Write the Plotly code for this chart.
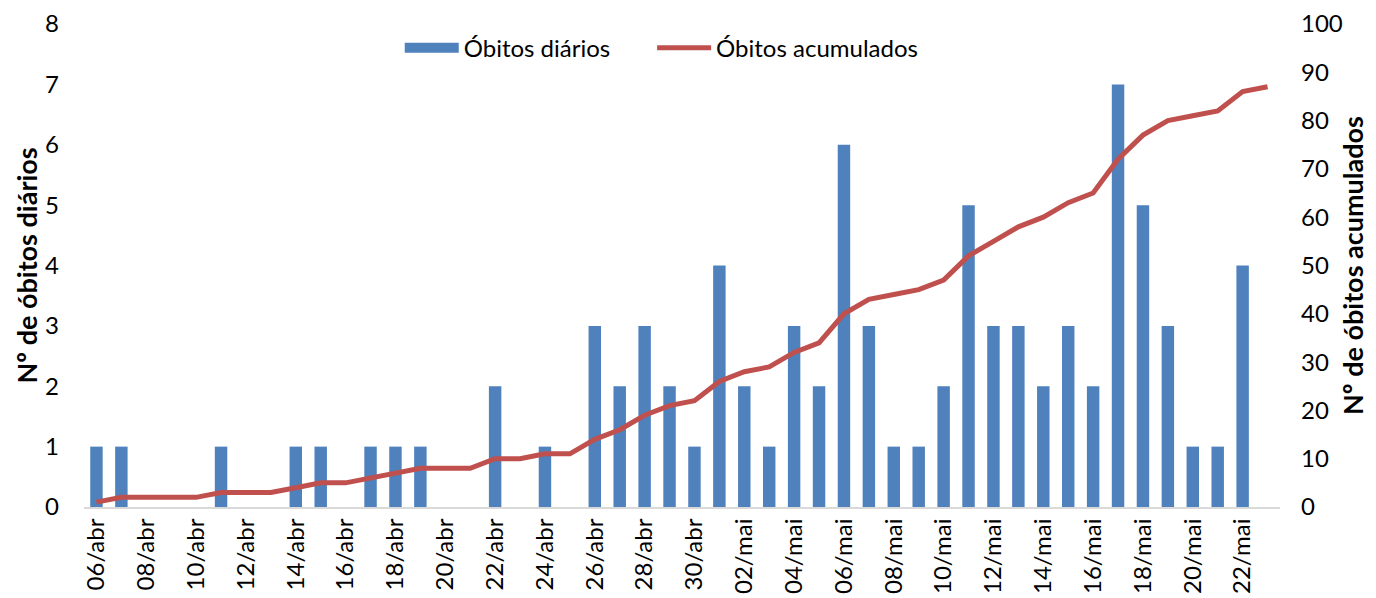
import plotly.graph_objects as go

# Categories: 06/abr .. 23/mai
dates = ([f"{d:02d}/abr" for d in range(6, 31)] +
         [f"{d:02d}/mai" for d in range(1, 24)])

obitos_diarios = [1, 1, 0, 0, 0, 1, 0, 0, 1, 1, 0, 1, 1, 1, 0, 0, 2, 0, 1, 0,
                  3, 2, 3, 2, 1, 4, 2, 1, 3, 2, 6, 3, 1, 1, 2, 5, 3, 3, 2, 3,
                  2, 7, 5, 3, 1, 1, 4, 0]

obitos_acumulados = [1, 2, 2, 2, 2, 3, 3, 3, 4, 5, 5, 6, 7, 8, 8, 8, 10, 10, 11, 11,
                     14, 16, 19, 21, 22, 26, 28, 29, 32, 34, 40, 43, 44, 45, 47, 52, 55, 58, 60, 63,
                     65, 72, 77, 80, 81, 82, 86, 87]

tick_labels = dates[::2]

FONT = "Lato"
BLUE = "#4F81BD"
RED = "#C0504D"
PAD = "\u00a0" * 6

fig = go.Figure()
fig.add_trace(go.Bar(
    x=dates, y=obitos_diarios, name="Óbitos diários",
    marker=dict(color=BLUE, line=dict(width=0)),
    yaxis="y", showlegend=False, legendgroup="d",
))
# legend entry for the bars (wide rectangle like the original)
fig.add_trace(go.Scatter(
    x=[None], y=[None], name="Óbitos diários" + PAD, mode="lines",
    line=dict(color=BLUE, width=15), legendgroup="d", yaxis="y",
))
fig.add_trace(go.Scatter(
    x=dates, y=obitos_acumulados, name="Óbitos acumulados",
    mode="lines", line=dict(color=RED, width=5),
    yaxis="y2",
))

fig.update_layout(
    width=1368, height=590,
    margin=dict(l=76, r=96, t=16, b=91),
    paper_bgcolor="white", plot_bgcolor="white",
    font=dict(family=FONT, size=24, color="#000000"),
    bargap=0.5,
    showlegend=True,
    legend=dict(orientation="h", x=0.264, xanchor="left", y=0.95, yanchor="middle",
                font=dict(size=24), itemwidth=54,
                bgcolor="rgba(0,0,0,0)", traceorder="normal"),
    xaxis=dict(
        type="category", tickmode="array", tickvals=tick_labels, ticktext=tick_labels,
        tickangle=-90, showgrid=False, showline=True, linecolor="#D9D9D9", linewidth=2,
        ticks="", automargin=False, tickfont=dict(size=24),
    ),
    yaxis=dict(
        range=[0, 8], dtick=1, showgrid=False, zeroline=False, showline=False,
        ticks="", automargin=False, ticklabelstandoff=24, ticklabeloverflow="allow",
    ),
    yaxis2=dict(
        range=[0, 100], dtick=10, overlaying="y", side="right", showgrid=False,
        zeroline=False, showline=False, ticks="", automargin=False, ticklabelstandoff=20,
        ticklabeloverflow="allow",
        title=dict(text="<b>Nº de óbitos acumulados</b>", standoff=2, font=dict(size=27)),
    ),
    annotations=[dict(
        text="<b>Nº de óbitos diários</b>", xref="paper", yref="paper",
        x=-58 / 1196, y=0.5, xanchor="center", yanchor="middle",
        textangle=-90, showarrow=False, font=dict(size=27), borderpad=0,
    )],
)

fig.write_html("out.html")
